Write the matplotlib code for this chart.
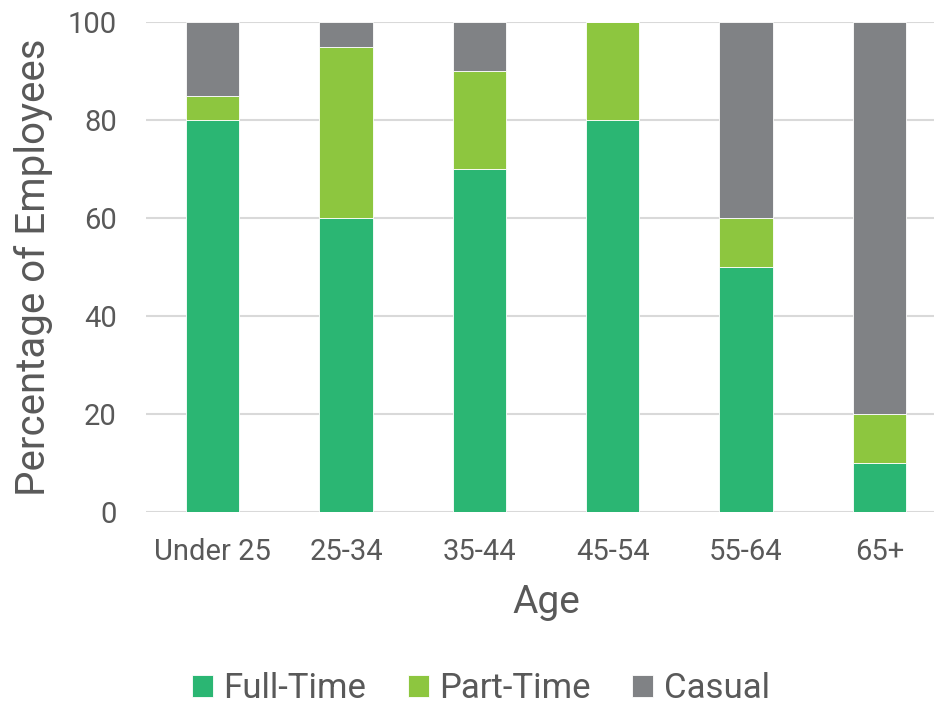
import numpy as np
import matplotlib
matplotlib.use('Agg')
import matplotlib.pyplot as plt

plt.rcParams['font.family'] = ['Roboto', 'DejaVu Sans']

# employment type share by age band
ages = ['Under 25', '25-34', '35-44', '45-54', '55-64', '65+']
full_time = [80, 60, 70, 80, 50, 10]
part_time = [5, 35, 20, 20, 10, 10]
casual = [15, 5, 10, 0, 40, 80]

series = [('Full-Time', full_time, '#2bb673'),
          ('Part-Time', part_time, '#8dc63f'),
          ('Casual', casual, '#808285')]

text_col = '#595959'

fig = plt.figure(figsize=(9.34, 7.04), dpi=100)
ax = fig.add_axes([146 / 934, 192 / 704, 800 / 934, 490 / 704])

x = np.arange(len(ages))
bottom = np.zeros(len(ages))
for name, vals, col in series:
    vals = np.array(vals, dtype=float)
    ax.bar(x, vals, 0.4, bottom=bottom, color=col, label=name,
           edgecolor='white', linewidth=0.6, zorder=3)
    bottom += vals

ax.set_xlim(-0.5, 5.5)
ax.set_ylim(0, 100)
ax.set_yticks([0, 20, 40, 60, 80, 100])
ax.set_xticks(x)
ax.set_xticklabels(ages)
ax.grid(axis='y', color='#d9d9d9', linewidth=1.5, zorder=0)
ax.tick_params(length=0, labelsize=21, colors=text_col)
ax.tick_params(axis='x', pad=19)
ax.tick_params(axis='y', pad=21)
for s in ax.spines.values():
    s.set_visible(False)

# axis titles placed on their baselines
ax.set_xlabel('Age', fontsize=28, color=text_col, va='baseline')
ax.xaxis.set_label_coords(0.5, -0.206)
ax.set_ylabel('Percentage of Employees', fontsize=29, color=text_col, va='baseline')
ax.yaxis.set_label_coords(-0.126, 0.5)

fig.legend(*ax.get_legend_handles_labels(), loc='center', bbox_to_anchor=(481 / 934, 1 - 689 / 704),
           ncol=3, frameon=False, fontsize=25, labelcolor=text_col,
           handlelength=0.6, handleheight=0.6, handletextpad=0.3, columnspacing=1.2)

fig.savefig('out.png', dpi=100)
